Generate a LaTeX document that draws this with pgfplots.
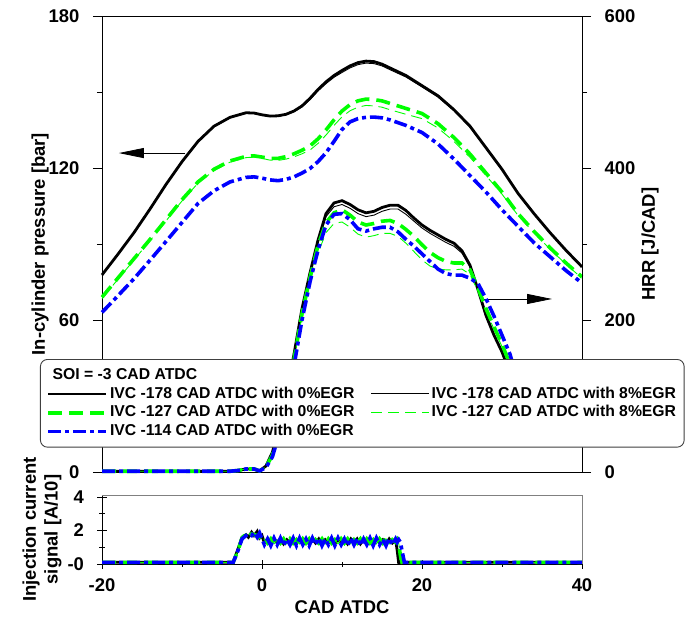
\documentclass[border=0pt]{standalone}
\usepackage{fontspec}
\setmainfont{Liberation Sans}
\usepackage{pgfplots}
\pgfplotsset{compat=1.18}
\usepackage{pgfplotstable}
\usetikzlibrary{arrows.meta}
\definecolor{mygreen}{RGB}{0,255,0}
\definecolor{myblue}{RGB}{0,0,255}
\tikzset{
  blk0/.style={black, line width=2.8bp, solid},
  blk8/.style={black, line width=0.9bp, solid},
  grn0/.style={mygreen, line width=3.6bp, dash pattern=on 14bp off 7bp},
  grn8/.style={mygreen, line width=0.9bp, dash pattern=on 11bp off 6bp},
  blu0/.style={myblue, line width=3.6bp, dash pattern=on 13bp off 4bp on 4bp off 4bp},
}
\pgfplotsset{
  myaxis/.style={
    scale only axis, width=480bp, xmin=-20, xmax=40,
    tick align=outside, major tick length=9bp, minor tick length=5bp,
    every tick/.style={black, line width=1bp},
    axis line style={line width=1bp},
    tick label style={font=\bfseries\fontsize{18.5}{20}\selectfont},
    label style={font=\bfseries\fontsize{18.5}{22}\selectfont},
    /pgf/number format/assume math mode=true,
  }
}
\pgfplotstableread{
x     k     g     b
-20   0.1   0.1   0.1
-3.6  0.1   0.1   0.1
-3.0  0.9   0.8   0.8
-2.5  1.6   1.55  1.5
-2.0  1.75  1.8   1.7
-1.7  1.6   1.65  1.8
-1.3  1.9   1.8   1.7
-1.0  1.7   1.75  1.9
-0.6  1.95  1.7   1.6
-0.3  1.55  1.6   1.85
0.0   1.7   1.75  1.5
0.3   1.25  1.45  1.15
0.7   1.45  1.25  1.5
1.1   1.2   1.5   1.1
1.5   1.5   1.2   1.55
1.9   1.25  1.45  1.15
2.3   1.5   1.25  1.55
2.7   1.2   1.5   1.1
3.1   1.45  1.2   1.5
3.5   1.25  1.5   1.15
3.9   1.5   1.25  1.55
4.3   1.2   1.45  1.1
4.7   1.5   1.2   1.55
5.1   1.25  1.5   1.15
5.5   1.45  1.25  1.5
5.9   1.2   1.5   1.1
6.3   1.5   1.2   1.55
6.7   1.25  1.45  1.15
7.1   1.5   1.25  1.55
7.5   1.2   1.5   1.1
7.9   1.45  1.2   1.5
8.3   1.25  1.5   1.15
8.7   1.5   1.25  1.55
9.1   1.2   1.45  1.1
9.5   1.5   1.2   1.55
9.9   1.25  1.5   1.15
10.3  1.45  1.25  1.5
10.7  1.2   1.5   1.1
11.1  1.5   1.2   1.55
11.5  1.25  1.45  1.15
11.9  1.5   1.25  1.55
12.3  1.2   1.5   1.1
12.7  1.45  1.2   1.5
13.1  1.25  1.5   1.15
13.5  1.5   1.25  1.55
13.9  1.2   1.45  1.1
14.3  1.5   1.2   1.55
14.7  1.25  1.5   1.15
15.1  1.45  1.25  1.5
15.5  1.2   1.5   1.1
15.9  1.5   1.2   1.55
16.3  1.25  1.45  1.15
16.7  1.45  1.3   1.5
16.9  0.8   1.45  1.3
17.1  0.0   1.2   1.45
17.3  0.1   0.5   1.3
17.5  0.1   0.1   0.8
17.8  0.1   0.1   0.1
40    0.1   0.1   0.1
}\inj
\begin{document}
\begin{tikzpicture}
\path[use as bounding box] (0bp,0bp) rectangle (686bp,-622bp);
% ---------- pressure (left axis) ----------
\begin{axis}[myaxis, at={(102bp,-16bp)}, anchor=north west, height=456bp,
  ymin=0, ymax=180, ytick={0,60,120,180}, minor ytick={30,90,150},
  ytick pos=left, xtick=\empty,
  yticklabel style={xshift=-10bp},
  ylabel={In-cylinder pressure [bar]},
  ylabel style={at={(axis description cs:-0.129,0.5)}, anchor=center},
  clip=false]
\addplot[blk0] coordinates {(-20,77.8) (-18,86) (-16,94.5) (-14,103.8) (-12,113.5) (-10,122.5) (-8,130.5) (-6,136.5) (-4,140) (-2,141.8) (-1,141.7) (0,141) (1,140.5) (2,140.6) (3,141.2) (4,142.5) (5,144.5) (6,147.5) (7,151) (8,154) (9,156.5) (10,158.5) (11,160.3) (12,161.6) (13,162.2) (14,162) (15,161) (16,159.5) (18,156.5) (20,152.5) (22,148.5) (24,143) (26,136.5) (28,128) (30,119.5) (32,110) (34,102) (36,94.5) (38,87.5) (40,81)};
\addplot[blk8] coordinates {(-20,77.6) (-18,85.8) (-16,94.3) (-14,103.6) (-12,113.3) (-10,122.3) (-8,130.3) (-6,136.3) (-4,139.8) (-2,141.6) (-1,141.5) (0,140.8) (1,140.3) (2,140.4) (3,141) (4,142.2) (5,144.1) (6,147) (7,150.4) (8,153.3) (9,155.8) (10,157.7) (11,159.5) (12,160.8) (13,161.4) (14,161.2) (15,160.3) (16,158.8) (18,155.9) (20,152) (22,148) (24,142.6) (26,136.2) (28,127.7) (30,119.3) (32,109.8) (34,101.8) (36,94.4) (38,87.4) (40,80.9)};
\addplot[grn0] coordinates {(-20,69) (-18,76.6) (-16,84.2) (-14,91.8) (-12,99.6) (-10,107.5) (-8,114.5) (-6,119.5) (-4,122.8) (-2,124.6) (-1,124.8) (0,124.3) (1,123.8) (2,123.8) (3,124.5) (4,125.6) (5,127) (6,128.7) (7,131.5) (8,135) (9,139) (10,142.5) (11,145) (12,146.5) (13,147.2) (14,147) (15,146.5) (16,145.5) (18,143.5) (20,141.5) (22,137.5) (24,132) (26,125.5) (28,118) (30,110.5) (32,102) (34,95) (36,88.5) (38,82.5) (40,77)};
\addplot[grn8] coordinates {(-20,68.5) (-18,76.1) (-16,83.7) (-14,91.3) (-12,99.1) (-10,107) (-8,114) (-6,119) (-4,122.3) (-2,124.1) (-1,124.3) (0,123.8) (1,123.1) (2,123) (3,123.5) (4,124.4) (5,125.6) (6,127.1) (7,129.7) (8,133) (9,136.8) (10,140.2) (11,142.6) (12,144) (13,144.7) (14,144.5) (15,144) (16,143) (18,141.2) (20,139.5) (22,135.8) (24,130.5) (26,124.2) (28,117) (30,109.7) (32,101.3) (34,94.4) (36,88) (38,82) (40,76.5)};
\addplot[blu0] coordinates {(-20,63) (-18,69.6) (-16,76.3) (-14,83.6) (-12,91) (-10,98.5) (-8,106) (-6,111) (-4,114.5) (-2,116.3) (-1,116.5) (0,116) (1,115.3) (2,115) (3,115.5) (4,116.5) (5,118) (6,119.8) (7,122.5) (8,126) (9,130.5) (10,135.2) (11,138.2) (12,139.5) (13,140) (14,140.1) (15,139.8) (16,139) (18,136.8) (20,134) (22,129.5) (24,123.5) (26,117) (28,110.5) (30,103.5) (32,97) (34,90.5) (36,85) (38,79.5) (40,74.6)};
\draw[-{Triangle[length=25bp,width=10bp]}, line width=0.8bp] (axis cs:-9.6,125.9) -- (axis cs:-17.9,125.9);
\draw[-{Triangle[length=25bp,width=10bp]}, line width=0.8bp] (axis cs:27.6,68.3) -- (axis cs:36.25,68.3);
\end{axis}
% ---------- HRR (right axis) ----------
\begin{axis}[myaxis, at={(102bp,-16bp)}, anchor=north west, height=456bp,
  ymin=0, ymax=600, ytick={0,200,400,600}, minor ytick={100,300,500},
  axis y line*=right, axis x line=none,
  yticklabel style={xshift=10bp},
  ylabel={HRR [J/CAD]},
  ylabel style={at={(axis description cs:1.1417,0.5)}, anchor=center},
  clip=false,
  legend columns=2, legend cell align=left,
  legend image code/.code={\draw[#1] (0bp,0bp) -- (58bp,0bp);},
  legend style={at={(-0.1292,0.2478)}, anchor=north west,
    draw=black!75, line width=0.9bp, rounded corners=7bp, fill=white,
    inner xsep=6bp, inner ysep=8bp, row sep=3.5bp,
    font=\bfseries\fontsize{15.8}{17}\selectfont,
    nodes={inner xsep=2bp, inner ysep=0bp, text height=11.8bp, text depth=3.5bp},
    /tikz/every even column/.append style={column sep=14bp}}]
\addlegendimage{legend image code/.code={\node[overlay, anchor=west, inner sep=0pt] at (4bp,0bp) {SOI = -3 CAD ATDC};}}
\addlegendentry{}
\addlegendimage{empty legend}
\addlegendentry{}
\addplot[blk0] coordinates {(-20,1) (-4,1) (-3,2) (-2,4) (-1,4) (-0.3,1.5) (0.5,8) (1.3,26) (2,55) (3,100) (4,155) (5,215) (6,262) (7,305) (8,340) (9,354) (10,357) (11,352) (12,345) (13,341) (14,343) (15,348) (16,351) (17,351) (18,344) (19,334) (20,325) (21,318) (22,312) (23,306) (24,301) (25,291) (26,272) (27,240) (28,206) (29,180) (30,158) (31,130) (32,95) (33,50) (33.3,34)};
\addlegendentry{IVC -178 CAD ATDC with 0\%EGR}
\addplot[blk8] coordinates {(-20,1) (-4,1) (-3,2) (-2,4) (-1,4) (-0.3,1.5) (0.5,8) (1.3,26) (2,55) (3,100) (4,155) (5,213) (6,259) (7,301) (8,336) (9,349) (10,352) (11,347) (12,340) (13,336) (14,338) (15,343) (16,346) (17,346) (18,339) (19,330) (20,321) (21,314) (22,308) (23,302) (24,297) (25,288) (26,270) (27,239) (28,206) (29,180) (30,158) (31,130) (32,95) (33,50) (33.3,34)};
\addlegendentry{IVC -178 CAD ATDC with 8\%EGR}
\addplot[grn0] coordinates {(-20,1) (-4,1) (-3,2) (-2,4) (-1,4) (-0.3,1.5) (0.5,7) (1.3,22) (2,50) (3,95) (4,148) (5,208) (6,256) (7,298) (8,328) (9,341) (10,345) (11,338) (12,329) (13,325) (14,327) (15,330) (16,331) (17,327) (18,319) (19,310) (20,299) (21,289) (22,282) (23,277) (24,275) (25,275) (26,266) (27,242) (28,215) (29,191) (30,168) (31,142) (32,105) (33,55) (33.4,34)};
\addlegendentry{IVC -127 CAD ATDC with 0\%EGR}
\addplot[grn8] coordinates {(-20,1) (-4,1) (-3,2) (-2,4) (-1,4) (-0.3,1.5) (0.5,7) (1.3,22) (2,50) (3,95) (4,148) (5,205) (6,250) (7,288) (8,315) (9,327) (10,329) (11,322) (12,313) (13,309) (14,311) (15,314) (16,314) (17,310) (18,301) (19,290) (20,279) (21,271) (22,267) (23,266) (24,266) (25,267) (26,260) (27,238) (28,212) (29,188) (30,165) (31,140) (32,105) (33,55) (33.4,34)};
\addlegendentry{IVC -127 CAD ATDC with 8\%EGR}
\addplot[blu0] coordinates {(-20,1) (-4,1) (-3,2) (-2,4) (-1,4) (-0.3,1.5) (0.5,6) (1.3,20) (2,45) (3,90) (4,140) (5,200) (6,250) (7,292) (8,325) (9,339) (10,340) (11,332) (12,320) (13,317) (14,320) (15,322) (16,322) (17,316) (18,306) (19,297) (20,287) (21,277) (22,267) (23,261) (24,259) (25,259) (26,255) (27,248) (28,228) (29,205) (30,180) (31,155) (32,118) (33,70) (33.7,36)};
\addlegendentry{IVC -114 CAD ATDC with 0\%EGR}
\end{axis}
% ---------- injection current ----------
\begin{axis}[myaxis, at={(102bp,-495bp)}, anchor=north west, height=69bp,
  ymin=0, ymax=4.12, ytick={0,2,4}, yticklabels={-0,2,4}, minor ytick={1,3},
  xtick={-20,0,20,40}, minor xtick={-10,10,30},
  yticklabel style={xshift=-10bp},
  xticklabel style={yshift=-7bp},
  axis lines=left, axis line style={-, line width=1bp},
  xlabel={CAD ATDC},
  xlabel style={at={(axis description cs:0.5,-0.623)}, anchor=center},
  ylabel={Injection current\\signal [A/10]},
  ylabel style={at={(axis description cs:-0.125,0.5)}, anchor=center, align=center},
  after end axis/.code={\draw[gray, line width=1bp] (rel axis cs:0,1) -- (rel axis cs:1,1) -- (rel axis cs:1,0);}]
\addplot[blk0] table[x=x, y=k] {\inj};
\addplot[blk8] table[x=x, y=k] {\inj};
\addplot[grn0] table[x=x, y=g] {\inj};
\addplot[grn8] table[x=x, y=g] {\inj};
\addplot[blu0] table[x=x, y=b] {\inj};
\end{axis}
\end{tikzpicture}
\end{document}
